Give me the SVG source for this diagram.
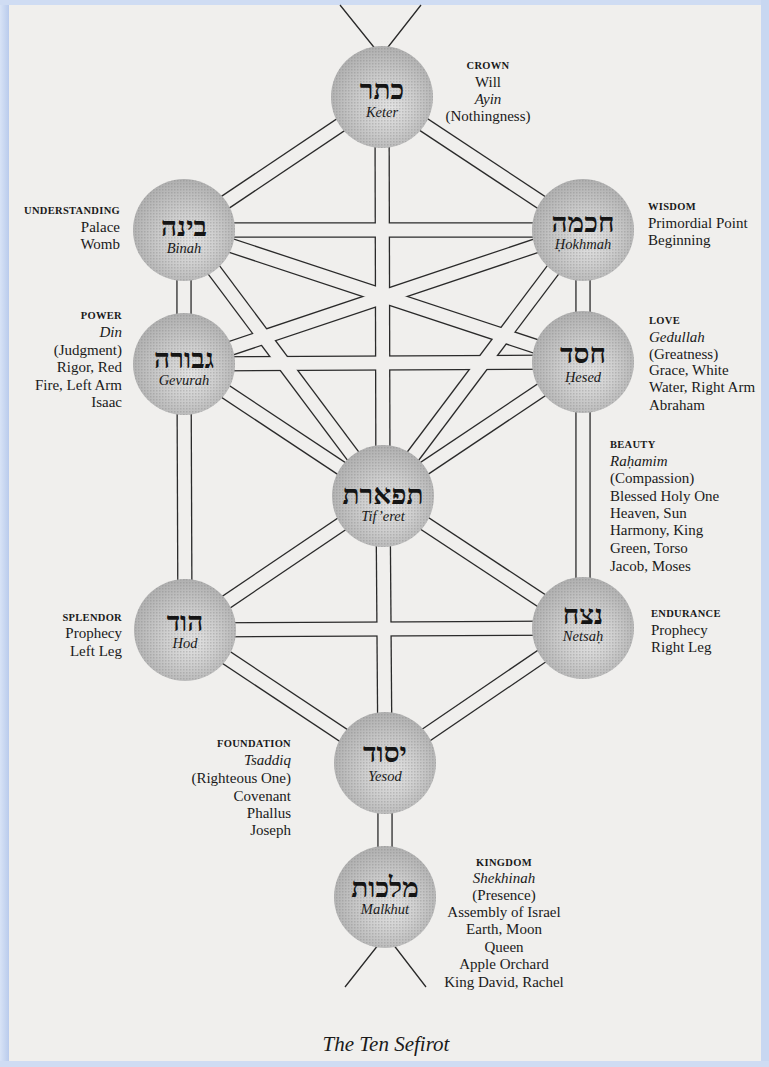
<svg xmlns="http://www.w3.org/2000/svg" width="769" height="1067" viewBox="0 0 769 1067">
<defs>
<style>
.heb{font-family:"Liberation Serif","DejaVu Sans",serif;font-size:28px;font-weight:bold;fill:#151515;text-anchor:middle}
.nm{font-family:"Liberation Serif",serif;font-style:italic;font-size:14.5px;fill:#1a1a1a;text-anchor:middle}
.hd{font-family:"Liberation Serif",serif;font-weight:bold;font-size:10.5px;letter-spacing:0.3px;fill:#1a1a1a}
.lb{font-family:"Liberation Serif",serif;font-size:15px;fill:#1a1a1a}
.it{font-style:italic}
.end{text-anchor:end}
.mid{text-anchor:middle}
.outer{fill:none;stroke:#2a2a2a;stroke-width:15.4}
.inner{fill:none;stroke:#f0efed;stroke-width:12.8}
.single{fill:none;stroke:#2a2a2a;stroke-width:1.3}
.disc{fill:url(#g)}
.dots{fill:url(#ht);opacity:0.3}
</style>
<radialGradient id="g" cx="0.52" cy="0.55" r="0.55" fx="0.58" fy="0.62">
<stop offset="0" stop-color="#e3e3e3"/>
<stop offset="0.45" stop-color="#cfcfcf"/>
<stop offset="1" stop-color="#b0b0b0"/>
</radialGradient>
<pattern id="ht" width="3" height="3" patternUnits="userSpaceOnUse">
<rect width="1.5" height="1.5" fill="#777"/>
</pattern>
<linearGradient id="bl" x1="0" y1="0" x2="1" y2="0">
<stop offset="0" stop-color="#d8e3f6"/>
<stop offset="1" stop-color="#b9cbec"/>
</linearGradient>
<path id="c1" d="M382 97L184 230"/>
<path id="c2" d="M382 97L583 230"/>
<path id="c3" d="M382 97L383 496"/>
<path id="c4" d="M184 230L583 230"/>
<path id="c5" d="M184 230L184 364"/>
<path id="c6" d="M583 230L583 362"/>
<path id="c7" d="M184 230L583 362"/>
<path id="c8" d="M583 230L184 364"/>
<path id="c9" d="M184 230L383 496"/>
<path id="c10" d="M583 230L383 496"/>
<path id="c11" d="M184 364L583 362"/>
<path id="c12" d="M184 364L383 496"/>
<path id="c13" d="M583 362L383 496"/>
<path id="c14" d="M184 364L185 630"/>
<path id="c15" d="M583 362L583 628"/>
<path id="c16" d="M383 496L185 630"/>
<path id="c17" d="M383 496L583 628"/>
<path id="c18" d="M383 496L385 763"/>
<path id="c19" d="M185 630L583 628"/>
<path id="c20" d="M185 630L385 763"/>
<path id="c21" d="M583 628L385 763"/>
<path id="c22" d="M385 763L385 897"/>
</defs>
<rect width="769" height="1067" fill="#f0efed"/>
<rect x="0" y="0" width="9" height="1067" fill="url(#bl)"/>
<rect x="0" y="0" width="769" height="5" fill="#cfdcf3"/>
<rect x="761" y="0" width="8" height="1067" fill="#c8d7f1"/>
<rect x="0" y="1061" width="769" height="6" fill="#cfdcf3"/>
<g id="connectors">
<g class="outer">
<use href="#c1"/><use href="#c2"/><use href="#c3"/><use href="#c4"/><use href="#c5"/><use href="#c6"/><use href="#c7"/><use href="#c8"/><use href="#c9"/><use href="#c10"/><use href="#c11"/><use href="#c12"/><use href="#c13"/><use href="#c14"/><use href="#c15"/><use href="#c16"/><use href="#c17"/><use href="#c18"/><use href="#c19"/><use href="#c20"/><use href="#c21"/><use href="#c22"/>
</g>
<g class="inner">
<use href="#c1"/><use href="#c2"/><use href="#c3"/><use href="#c4"/><use href="#c5"/><use href="#c6"/><use href="#c7"/><use href="#c8"/><use href="#c9"/><use href="#c10"/><use href="#c11"/><use href="#c12"/><use href="#c13"/><use href="#c14"/><use href="#c15"/><use href="#c16"/><use href="#c17"/><use href="#c18"/><use href="#c19"/><use href="#c20"/><use href="#c21"/><use href="#c22"/>
</g>
<path class="single" d="M340 5L381 56M421 5L381 56"/>
<path class="single" d="M386 935L345 987M386 935L426 987"/>
</g>
<g id="keter"><circle class="disc" cx="382" cy="97" r="51"/><circle class="dots" cx="382" cy="97" r="51"/><text class="heb" x="382" y="99">כתר</text><text class="nm" x="382" y="117">Keter</text></g>
<g id="binah"><circle class="disc" cx="184" cy="230" r="51"/><circle class="dots" cx="184" cy="230" r="51"/><text class="heb" x="184" y="236">בינה</text><text class="nm" x="184" y="253">Binah</text></g>
<g id="hokhmah"><circle class="disc" cx="583" cy="230" r="51"/><circle class="dots" cx="583" cy="230" r="51"/><text class="heb" x="583" y="232">חכמה</text><text class="nm" x="583" y="249">Ḥokhmah</text></g>
<g id="gevurah"><circle class="disc" cx="184" cy="364" r="51"/><circle class="dots" cx="184" cy="364" r="51"/><text class="heb" x="184" y="368">גבורה</text><text class="nm" x="184" y="385">Gevurah</text></g>
<g id="hesed"><circle class="disc" cx="583" cy="362" r="51"/><circle class="dots" cx="583" cy="362" r="51"/><text class="heb" x="583" y="363">חסד</text><text class="nm" x="583" y="382">Ḥesed</text></g>
<g id="tiferet"><circle class="disc" cx="383" cy="496" r="51"/><circle class="dots" cx="383" cy="496" r="51"/><text class="heb" x="383" y="504">תפארת</text><text class="nm" x="383" y="521">Tif’eret</text></g>
<g id="hod"><circle class="disc" cx="185" cy="630" r="51"/><circle class="dots" cx="185" cy="630" r="51"/><text class="heb" x="185" y="631">הוד</text><text class="nm" x="185" y="648">Hod</text></g>
<g id="netsah"><circle class="disc" cx="583" cy="628" r="51"/><circle class="dots" cx="583" cy="628" r="51"/><text class="heb" x="583" y="624">נצח</text><text class="nm" x="583" y="641">Netsaḥ</text></g>
<g id="yesod"><circle class="disc" cx="385" cy="763" r="51"/><circle class="dots" cx="385" cy="763" r="51"/><text class="heb" x="385" y="762">יסוד</text><text class="nm" x="385" y="781">Yesod</text></g>
<g id="malkhut"><circle class="disc" cx="385" cy="897" r="51"/><circle class="dots" cx="385" cy="897" r="51"/><text class="heb" x="385" y="897">מלכות</text><text class="nm" x="385" y="914">Malkhut</text></g>
<g id="labels">
<text class="hd mid" x="488" y="69">CROWN</text>
<text class="lb mid" x="488" y="87">Will</text>
<text class="lb mid it" x="488" y="104">Ayin</text>
<text class="lb mid" x="488" y="121">(Nothingness)</text>
<text class="hd end" x="120" y="214">UNDERSTANDING</text>
<text class="lb end" x="120" y="232">Palace</text>
<text class="lb end" x="120" y="249">Womb</text>
<text class="hd" x="648" y="210">WISDOM</text>
<text class="lb" x="648" y="228">Primordial Point</text>
<text class="lb" x="648" y="245">Beginning</text>
<text class="hd end" x="122" y="319">POWER</text>
<text class="lb end it" x="122" y="337">Din</text>
<text class="lb end" x="122" y="355">(Judgment)</text>
<text class="lb end" x="122" y="372">Rigor, Red</text>
<text class="lb end" x="122" y="390">Fire, Left Arm</text>
<text class="lb end" x="122" y="407">Isaac</text>
<text class="hd" x="649" y="324">LOVE</text>
<text class="lb it" x="649" y="342">Gedullah</text>
<text class="lb" x="649" y="359">(Greatness)</text>
<text class="lb" x="649" y="375">Grace, White</text>
<text class="lb" x="649" y="392">Water, Right Arm</text>
<text class="lb" x="649" y="410">Abraham</text>
<text class="hd" x="610" y="448">BEAUTY</text>
<text class="lb it" x="610" y="466">Raḥamim</text>
<text class="lb" x="610" y="483">(Compassion)</text>
<text class="lb" x="610" y="501">Blessed Holy One</text>
<text class="lb" x="610" y="518">Heaven, Sun</text>
<text class="lb" x="610" y="535">Harmony, King</text>
<text class="lb" x="610" y="553">Green, Torso</text>
<text class="lb" x="610" y="571">Jacob, Moses</text>
<text class="hd end" x="122" y="621">SPLENDOR</text>
<text class="lb end" x="122" y="638">Prophecy</text>
<text class="lb end" x="122" y="656">Left Leg</text>
<text class="hd" x="651" y="617">ENDURANCE</text>
<text class="lb" x="651" y="635">Prophecy</text>
<text class="lb" x="651" y="652">Right Leg</text>
<text class="hd end" x="291" y="747">FOUNDATION</text>
<text class="lb end it" x="291" y="765">Tsaddiq</text>
<text class="lb end" x="291" y="783">(Righteous One)</text>
<text class="lb end" x="291" y="801">Covenant</text>
<text class="lb end" x="291" y="818">Phallus</text>
<text class="lb end" x="291" y="835">Joseph</text>
<text class="hd mid" x="504" y="866">KINGDOM</text>
<text class="lb mid it" x="504" y="883">Shekhinah</text>
<text class="lb mid" x="504" y="900">(Presence)</text>
<text class="lb mid" x="504" y="917">Assembly of Israel</text>
<text class="lb mid" x="504" y="934">Earth, Moon</text>
<text class="lb mid" x="504" y="952">Queen</text>
<text class="lb mid" x="504" y="969">Apple Orchard</text>
<text class="lb mid" x="504" y="987">King David, Rachel</text>
<text class="lb mid it" x="386" y="1051" style="font-size:21px">The Ten Sefirot</text>
</g>
</svg>
